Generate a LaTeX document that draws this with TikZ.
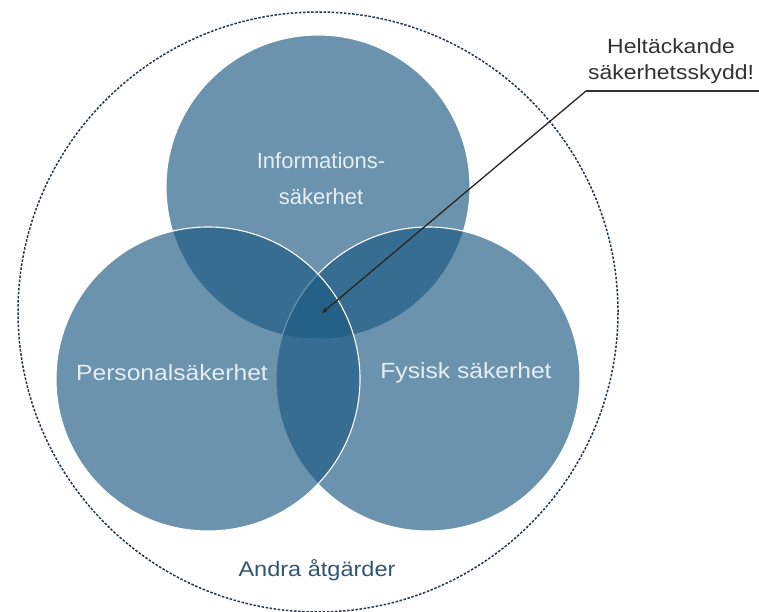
\documentclass[tikz,border=0pt]{standalone}
\usepackage{fontspec}
\setmainfont{Liberation Sans}
\newfontfamily\widesans[FakeStretch=1.12]{Liberation Sans}
\usetikzlibrary{arrows.meta}
\definecolor{basecol}{RGB}{27,89,129}
\definecolor{dashcol}{RGB}{36,56,76}
\definecolor{labelcol}{RGB}{230,238,243}
\definecolor{calloutcol}{RGB}{50,50,50}
\definecolor{andracol}{RGB}{46,85,115}
\tikzset{
  venn/.style={circle, minimum size=304pt, inner sep=0pt, fill=basecol, fill opacity=0.65, draw=white, line width=1.1pt},
  vlabel/.style={text=labelcol, font=\widesans\fontsize{22}{36}\selectfont, align=center, inner sep=0pt},
  outer/.style={circle, minimum size=600pt, inner sep=0pt, draw=dashcol, line width=1.5pt, dash pattern=on 2.5pt off 1.6pt},
}
\begin{document}
\begin{tikzpicture}[x=1pt,y=-1pt]
\useasboundingbox (0,0) rectangle (759,612);
\node[outer] (outer) at (318,312) {};
\node[venn] (top) at (318,187) {};
\node[venn] (right) at (428,379) {};
\node[venn] (left) at (208,379) {};
\node[vlabel, font=\fontsize{22}{36}\selectfont] (lt) at (321,179) {Informations-\\säkerhet};
\node[vlabel] (ll) at (172,373) {Personalsäkerhet};
\node[vlabel] (lr) at (466,373) {Fysisk säkerhet};
\node[text=andracol, font=\widesans\fontsize{21}{24}\selectfont, inner sep=0pt] (andra) at (317,570) {Andra åtgärder};
\node[text=calloutcol, font=\widesans\fontsize{20.5}{26}\selectfont, align=center, inner sep=0pt] (callout) at (671,61) {Heltäckande\\säkerhetsskydd!};
\coordinate (u1) at (586,91);
\coordinate (u2) at (759,91);
\coordinate (tip) at (322,313);
\draw[calloutcol, line width=1.2pt] (u2) -- (u1);
\draw[black!85, line width=1.3pt, -{Stealth[length=6pt,width=5pt]}] (u1) -- (tip);
\end{tikzpicture}
\end{document}
